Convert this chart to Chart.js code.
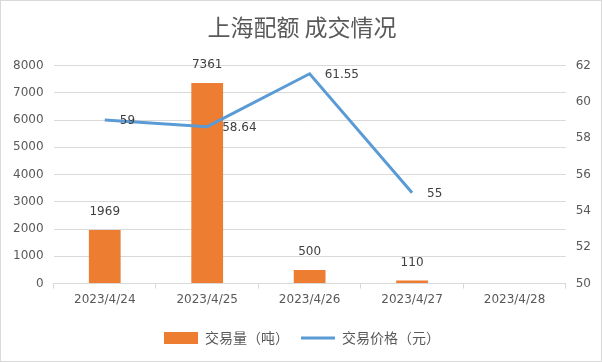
<!DOCTYPE html>
<html>
<head>
<meta charset="utf-8">
<script src="https://cdn.jsdelivr.net/npm/chart.js@4"></script>
<style>
  body { margin: 0; background: #fff; }
  #wrap { width: 600px; height: 360px; border: 1px solid #d9d9d9; position: relative; }
</style>
</head>
<body>
<div id="wrap"><canvas id="chart" width="600" height="360"></canvas></div>
<script>
const dates = ['2023/4/24', '2023/4/25', '2023/4/26', '2023/4/27', '2023/4/28'];
const volume = [1969, 7361, 500, 110, null];
const price = [59, 58.64, 61.55, 55, null];

const NUM_FONT = '"DejaVu Sans", sans-serif';
const CJK_FONT = '"Noto Sans CJK SC", sans-serif';
const TEXT = '#595959';

// simple value labels: above bars, right of line points
const valueLabels = {
    id: 'valueLabels',
    afterDatasetsDraw(chart) {
        const ctx = chart.ctx;
        ctx.save();
        ctx.font = '12px ' + NUM_FONT;
        ctx.fillStyle = '#404040';
        chart.data.datasets.forEach((ds, i) => {
            const meta = chart.getDatasetMeta(i);
            meta.data.forEach((el, j) => {
                const v = ds.data[j];
                if (v == null) return;
                ctx.textBaseline = 'middle';
                if (ds.type === 'line') {
                    ctx.textAlign = 'left';
                    ctx.fillText(String(v), el.x + 15, el.y + 1);
                } else {
                    ctx.textAlign = 'center';
                    ctx.fillText(String(v), el.x, el.y - 18);
                }
            });
        });
        ctx.restore();
    }
};

new Chart(document.getElementById('chart'), {
    data: {
        labels: dates,
        datasets: [
            {
                type: 'bar',
                label: '交易量（吨）',
                data: volume,
                backgroundColor: '#ed7d31',
                yAxisID: 'y',
                categoryPercentage: 1,
                barPercentage: 0.31,
                pointStyle: 'rect',
                order: 2
            },
            {
                type: 'line',
                label: '交易价格（元）',
                data: price,
                borderColor: '#5b9bd5',
                backgroundColor: '#5b9bd5',
                borderWidth: 3,
                pointRadius: 0,
                tension: 0,
                yAxisID: 'y1',
                pointStyle: 'line',
                order: 1
            }
        ]
    },
    options: {
        responsive: false,
        animation: false,
        layout: { padding: { left: 2, right: 0, top: 0, bottom: 6 } },
        scales: {
            x: {
                grid: { offset: true, drawOnChartArea: false, color: '#d9d9d9', tickLength: 5 },
                border: { color: '#d9d9d9' },
                ticks: { color: TEXT, font: { family: NUM_FONT, size: 12 }, padding: 4, maxRotation: 0 },
                afterFit: scale => { scale.height += 8; }
            },
            y: {
                position: 'left',
                min: 0, max: 8000,
                ticks: {
                    stepSize: 1000, color: TEXT, font: { family: NUM_FONT, size: 12 }, padding: 10,
                    callback: v => String(v)
                },
                grid: { color: '#d9d9d9', drawTicks: false },
                border: { display: false }
            },
            y1: {
                position: 'right',
                min: 50, max: 62,
                ticks: { stepSize: 2, color: TEXT, font: { family: NUM_FONT, size: 12 }, padding: 10 },
                grid: { drawOnChartArea: false, drawTicks: false },
                border: { display: false }
            }
        },
        plugins: {
            title: {
                display: true,
                text: '上海配额 成交情况',
                color: TEXT,
                font: { family: CJK_FONT, size: 23, weight: 'normal' },
                padding: { top: 12, bottom: 25 }
            },
            legend: {
                position: 'bottom',
                labels: {
                    usePointStyle: true,
                    pointStyleWidth: 34,
                    boxHeight: 12,
                    color: TEXT,
                    font: { family: CJK_FONT, size: 14 },
                    padding: 12,
                    sort: (a, b) => a.datasetIndex - b.datasetIndex
                }
            },
            tooltip: { enabled: false }
        }
    },
    plugins: [valueLabels]
});
</script>
</body>
</html>
